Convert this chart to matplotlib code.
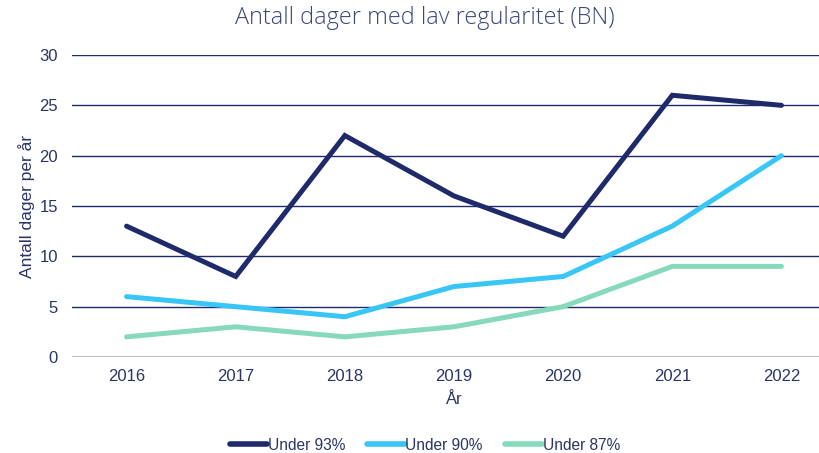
import matplotlib
matplotlib.use("Agg")
import matplotlib.pyplot as plt
from matplotlib.lines import Line2D

years = ["2016", "2017", "2018", "2019", "2020", "2021", "2022"]
under93 = [13, 8, 22, 16, 12, 26, 25]
under90 = [6, 5, 4, 7, 8, 13, 20]
under87 = [2, 3, 2, 3, 5, 9, 9]
series_labels = ["Under 93%", "Under 90%", "Under 87%"]
colors = ["#1F2A6B", "#38C6F6", "#86D9BB"]
text_color = "#2B3467"

plt.rcParams['font.family'] = ['Liberation Sans', 'DejaVu Sans']

fig = plt.figure(figsize=(8.19, 4.53), dpi=100)
ax = fig.add_axes([72/819, 1-357/453, (836-72)/819, (357-55)/453])

x = list(range(len(years)))
for vals, c, lab in zip([under93, under90, under87], colors, series_labels):
    ax.plot(x, vals, color=c, lw=3.6, solid_joinstyle='miter', solid_capstyle='round', label=lab, zorder=3)

ax.set_xlim(-0.5, len(years)-0.5)
ax.set_ylim(0, 30)
ax.set_yticks(range(0, 31, 5))
ax.set_xticks(x)
ax.set_xticklabels(years)
for s in ax.spines.values():
    s.set_visible(False)
ax.grid(axis='y', color="#1F2A6B", lw=1.0, zorder=1)
ax.axhline(0, color="#BFBFBF", lw=1.5, zorder=2)
ax.tick_params(axis='both', length=0, labelsize=12, labelcolor=text_color)
ax.tick_params(axis='x', pad=8.5)
ax.tick_params(axis='y', pad=10)
ax.set_xlabel("År", fontsize=12, color=text_color, labelpad=6)
ax.set_ylabel("Antall dager per år", fontsize=12.5, color=text_color, labelpad=3)

fig.text(425/819, 1-18/453, "Antall dager med lav regularitet (BN)", ha='center', va='center',
         fontsize=16.8, color="#3B4578", family=['Open Sans', 'DejaVu Sans'], fontweight='light')

handles = [Line2D([0], [0], color=c, lw=4, solid_capstyle='round') for c in colors]
fig.legend(handles, series_labels, loc='center', bbox_to_anchor=(425/819, 1-445/453), ncol=3,
           frameon=False, fontsize=11.2, labelcolor=text_color, handlelength=2.4, handletextpad=0.05,
           columnspacing=1.4)

fig.savefig("out.png", dpi=100)
